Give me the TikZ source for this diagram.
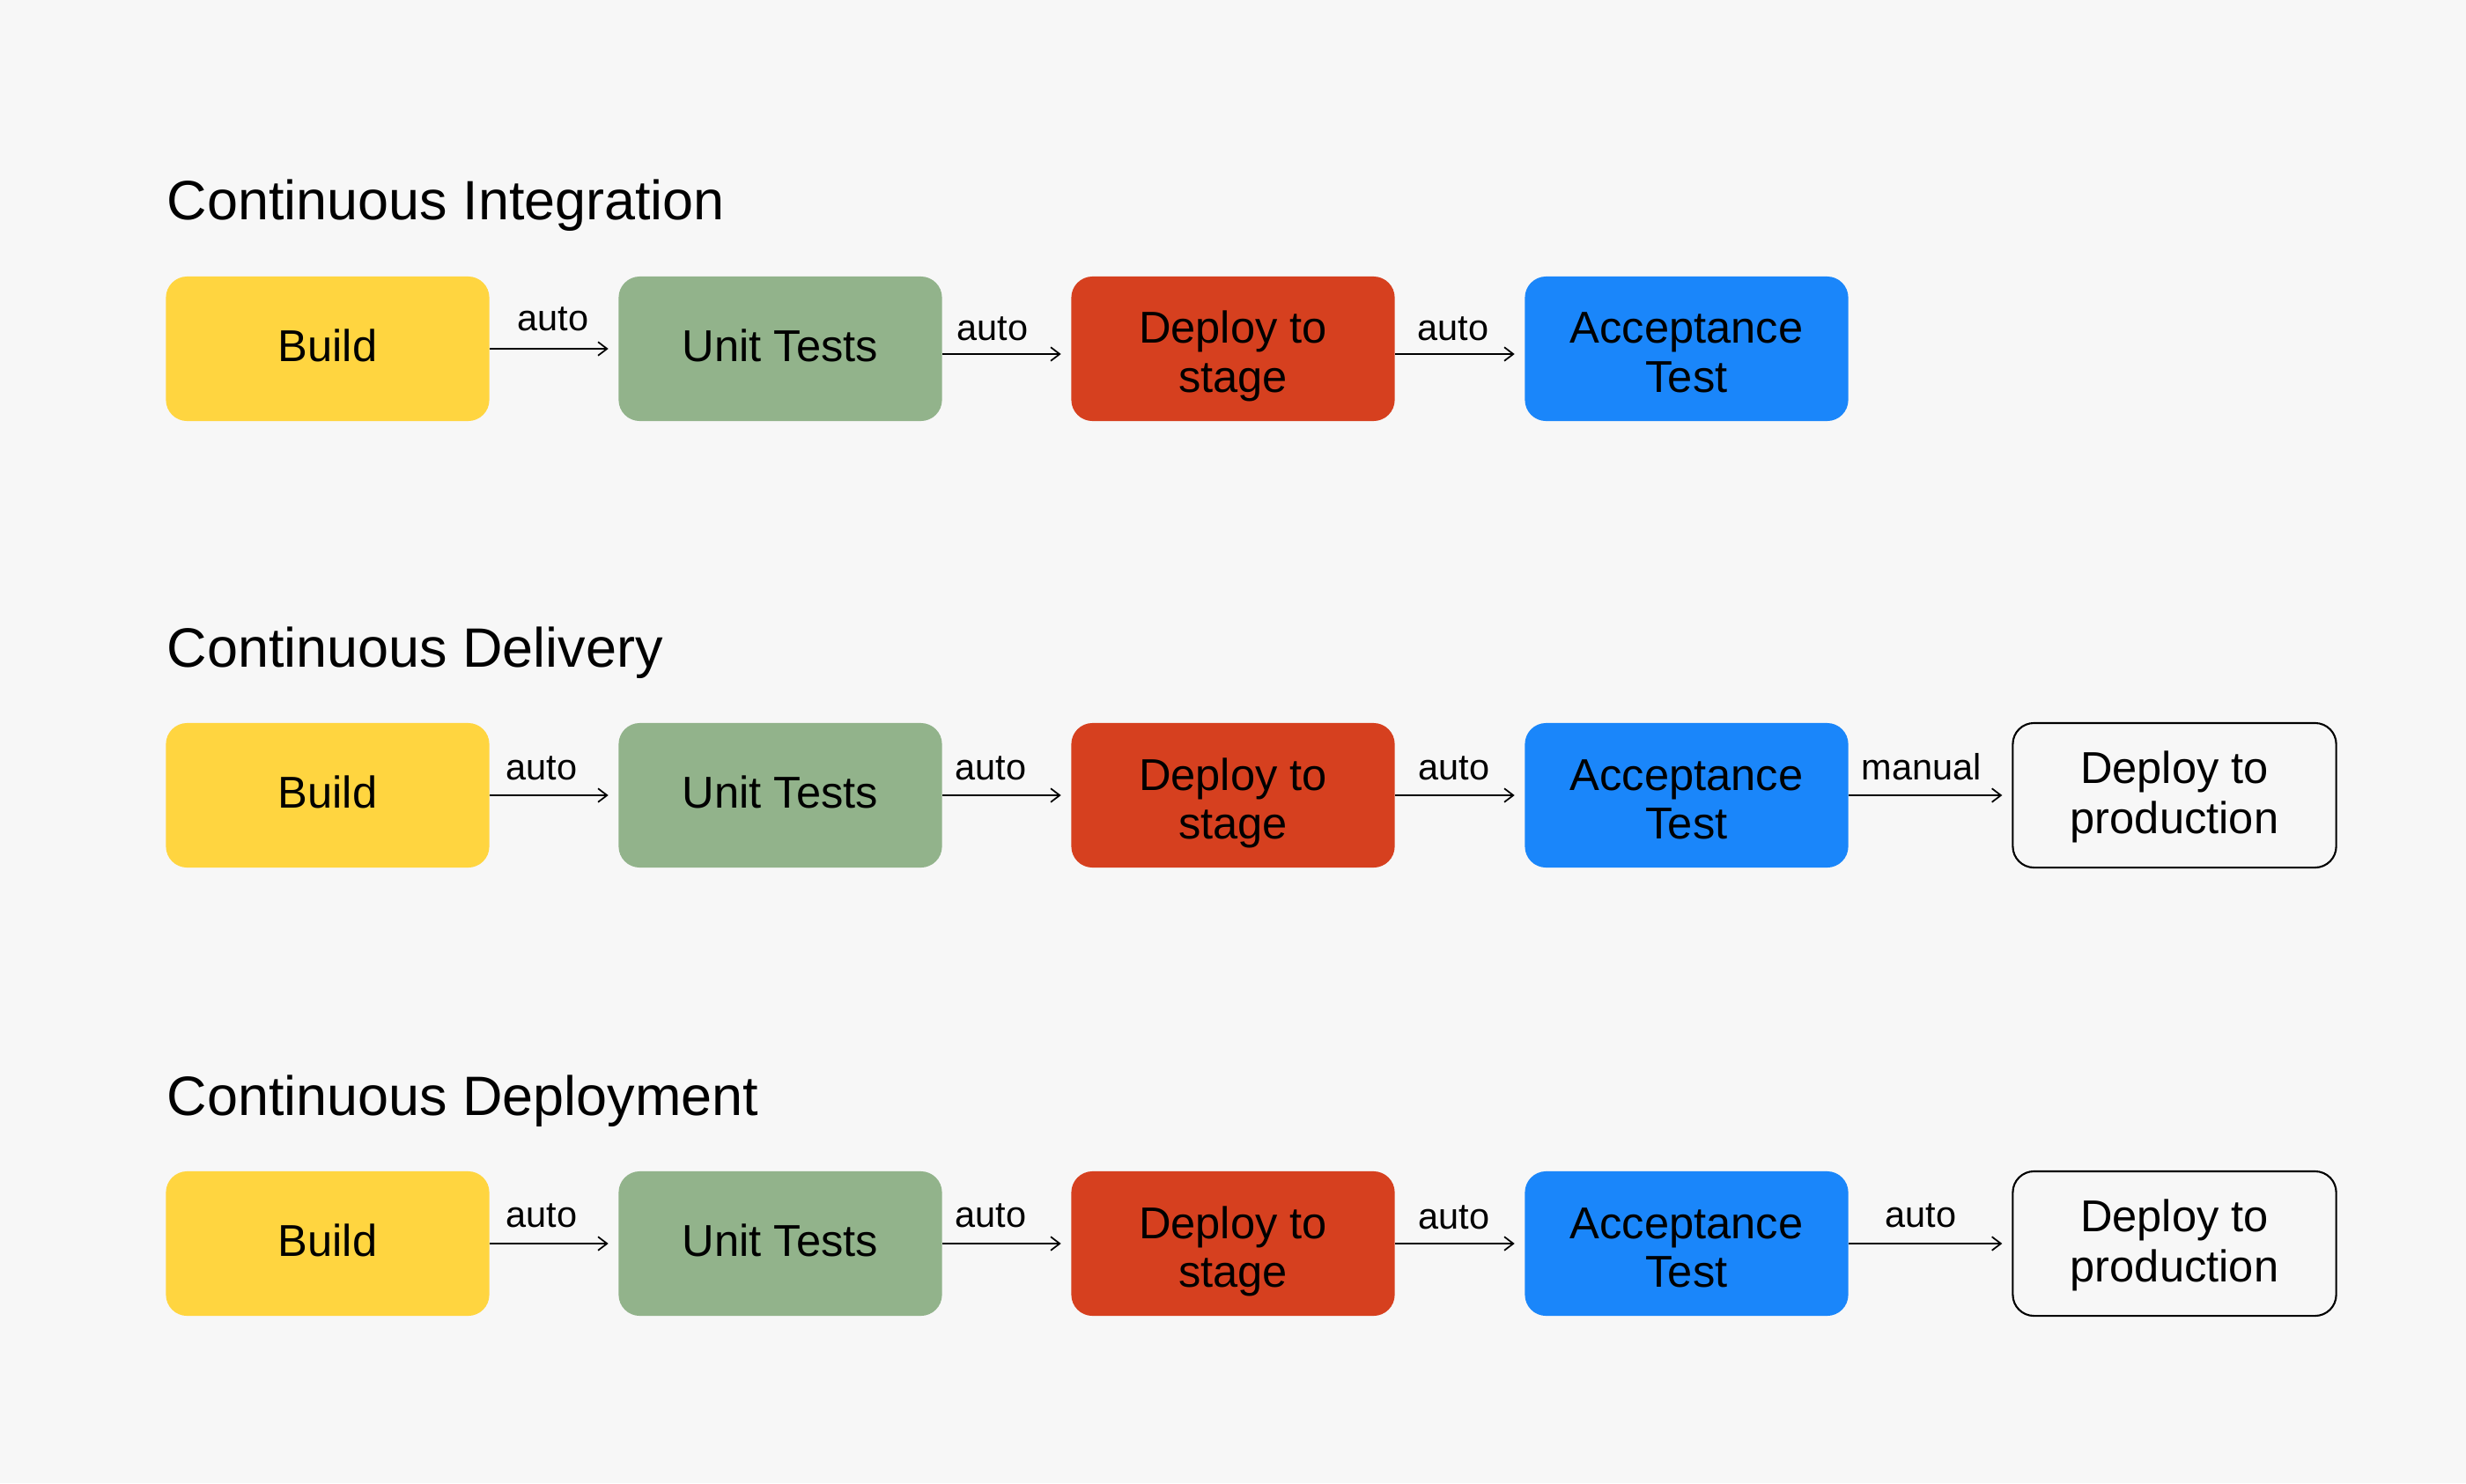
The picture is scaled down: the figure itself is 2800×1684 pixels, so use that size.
\documentclass[tikz,border=0pt]{standalone}
\usepackage{fontspec}
\setmainfont{Liberation Sans}
\usetikzlibrary{arrows.meta}
\definecolor{bgc}{HTML}{F7F7F7}
\definecolor{ylw}{HTML}{FFD540}
\definecolor{grn}{HTML}{92B38B}
\definecolor{rdd}{HTML}{D6401F}
\definecolor{blu}{HTML}{1A86FA}
\newcommand{\topone}{\rule{0pt}{11.67pt}}
\newcommand{\toptwo}{\rule{0pt}{15.93pt}}
\newcommand{\topprod}{\rule{0pt}{11.95pt}}
\newcommand{\botfix}{\rule[-3.7pt]{0pt}{0pt}}
\tikzset{
  stagebox/.style={rounded corners=0.24cm, minimum width=3.67cm, minimum height=1.64cm, inner sep=0pt, align=center},
  ybox/.style={stagebox, font=\fontsize{14.4}{15.65}\selectfont, fill=ylw},
  gbox/.style={stagebox, font=\fontsize{14.4}{15.65}\selectfont, fill=grn},
  rbox/.style={stagebox, font=\fontsize{14.4}{15.65}\selectfont, fill=rdd},
  bbox/.style={stagebox, font=\fontsize{14.4}{15.65}\selectfont, fill=blu},
  wbox/.style={stagebox, font=\fontsize{14.4}{16.2}\selectfont, draw=black, line width=0.6pt, fill=bgc},
  flow/.style={line width=0.5pt, -{Straight Barb[length=2.9pt,width=4.4pt]}, shorten >=0.11cm},
  lbl/.style={anchor=base, inner sep=0pt, font=\fontsize{11.8}{13}\selectfont},
  ttl/.style={anchor=base west, inner sep=0pt, font=\fontsize{17.9}{20}\selectfont}
}
\begin{document}
\begin{tikzpicture}[x=0.01cm, y=-0.01cm]
\fill[bgc] (0,0) rectangle (2800,1684);
\useasboundingbox (0,0) rectangle (2800,1684);

% Row 1
\node[ttl] (t1) at (189,249) {Continuous Integration};
\node[ybox] (a1) at (372,396) {\topone Build\botfix};
\node[gbox] (b1) at (886,396) {\topone Unit Tests\botfix};
\node[rbox] (c1) at (1400,396) {\toptwo Deploy to\\stage\botfix};
\node[bbox] (d1) at (1915,396) {\toptwo Acceptance\\Test\botfix};
\draw[flow] (a1.east) -- (b1.west);
\draw[flow] ([yshift=-0.06cm]b1.east) -- ([yshift=-0.06cm]c1.west);
\draw[flow] ([yshift=-0.06cm]c1.east) -- ([yshift=-0.06cm]d1.west);
\node[lbl] (l11) at (628,375) {auto};
\node[lbl] (l12) at (1127,386) {auto};
\node[lbl] (l13) at (1650,386) {auto};

% Row 2
\node[ttl] (t2) at (189,757) {Continuous Delivery};
\node[ybox] (a2) at (372,903) {\topone Build\botfix};
\node[gbox] (b2) at (886,903) {\topone Unit Tests\botfix};
\node[rbox] (c2) at (1400,903) {\toptwo Deploy to\\stage\botfix};
\node[bbox] (d2) at (1915,903) {\toptwo Acceptance\\Test\botfix};
\node[wbox] (e2) at (2469,903) {\topprod Deploy to\\production\botfix};
\draw[flow] (a2.east) -- (b2.west);
\draw[flow] (b2.east) -- (c2.west);
\draw[flow] (c2.east) -- (d2.west);
\draw[flow] (d2.east) -- (e2.west);
\node[lbl] (l21) at (615,885) {auto};
\node[lbl] (l22) at (1125,885) {auto};
\node[lbl] (l23) at (1651,885) {auto};
\node[lbl] (l24) at (2182,885) {manual};

% Row 3
\node[ttl] (t3) at (189,1266) {Continuous Deployment};
\node[ybox] (a3) at (372,1412) {\topone Build\botfix};
\node[gbox] (b3) at (886,1412) {\topone Unit Tests\botfix};
\node[rbox] (c3) at (1400,1412) {\toptwo Deploy to\\stage\botfix};
\node[bbox] (d3) at (1915,1412) {\toptwo Acceptance\\Test\botfix};
\node[wbox] (e3) at (2469,1412) {\topprod Deploy to\\production\botfix};
\draw[flow] (a3.east) -- (b3.west);
\draw[flow] (b3.east) -- (c3.west);
\draw[flow] (c3.east) -- (d3.west);
\draw[flow] (d3.east) -- (e3.west);
\node[lbl] (l31) at (615,1393) {auto};
\node[lbl] (l32) at (1125,1393) {auto};
\node[lbl] (l33) at (1651,1395) {auto};
\node[lbl] (l34) at (2181,1393) {auto};
\end{tikzpicture}
\end{document}
